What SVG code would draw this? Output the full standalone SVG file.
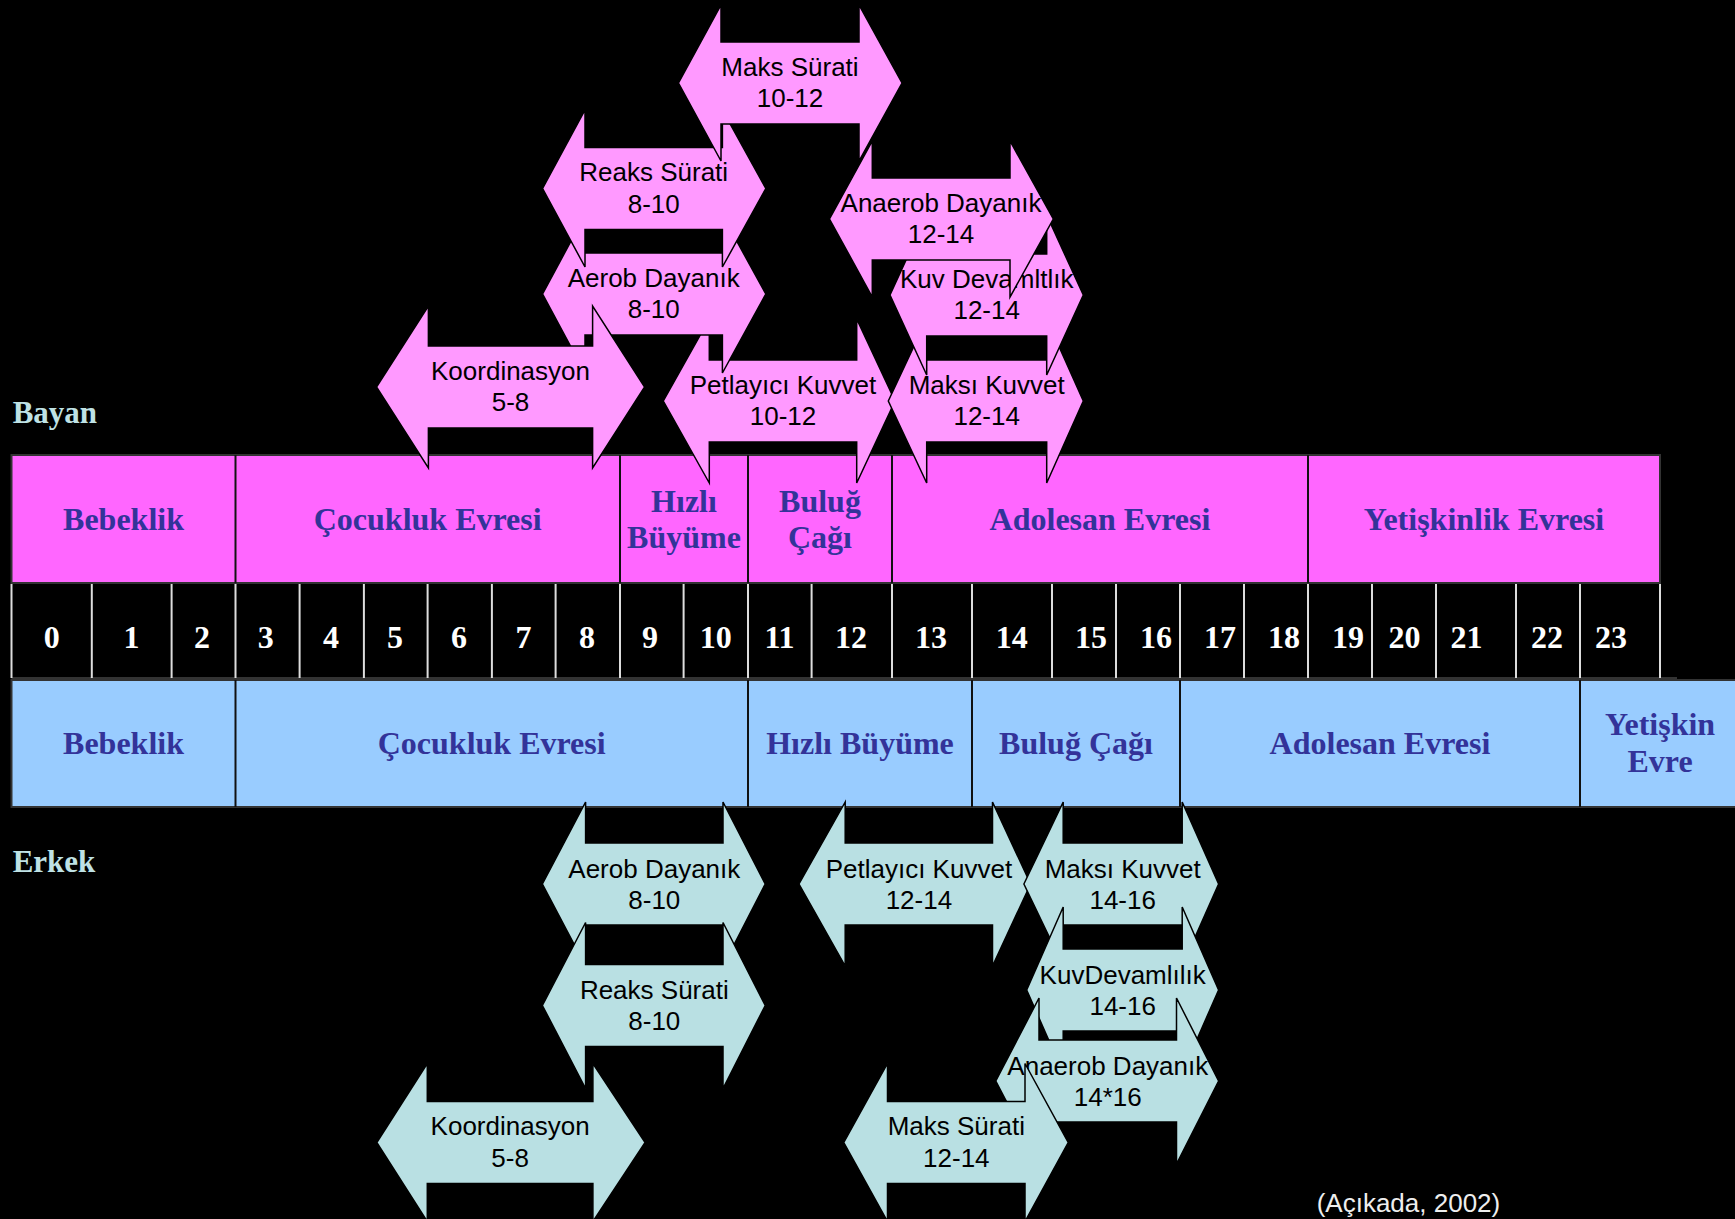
<svg xmlns="http://www.w3.org/2000/svg" width="1735" height="1219" viewBox="0 0 1735 1219">
<style>
.bp{fill:#FF66FF;stroke:#333;stroke-width:2}
.bb{fill:#99CCFF;stroke:#333;stroke-width:2}
.dv{stroke:#111;stroke-width:2}
.nd{stroke:#ddd;stroke-width:2}
.lb{font-family:"Liberation Serif","Times New Roman",serif;font-weight:bold;font-size:32px;fill:#333399;text-anchor:middle}
.nm{font-family:"Liberation Serif","Times New Roman",serif;font-weight:bold;font-size:32px;fill:#fff;text-anchor:middle}
.sx{font-family:"Liberation Serif","Times New Roman",serif;font-weight:bold;font-size:31px;fill:#BFE2E5}
.pa{fill:#FF99FF;stroke:#000;stroke-width:1.5}
.ba{fill:#B9E0E3;stroke:#000;stroke-width:1.5}
.at{font-family:"Liberation Sans",Arial,sans-serif;font-size:26px;fill:#000;text-anchor:middle}
.ct{font-family:"Liberation Sans",Arial,sans-serif;font-size:26px;fill:#eee}
</style>
<rect x="0" y="0" width="1735" height="1219" fill="#000"/>

<g id="bayan-bar">
<rect class="bp" x="11.5" y="455" width="1648.5" height="128"/>
<line class="dv" x1="235.5" y1="455" x2="235.5" y2="583"/>
<line class="dv" x1="620" y1="455" x2="620" y2="583"/>
<line class="dv" x1="748" y1="455" x2="748" y2="583"/>
<line class="dv" x1="892" y1="455" x2="892" y2="583"/>
<line class="dv" x1="1308" y1="455" x2="1308" y2="583"/>
<text class="lb" x="123.5" y="530">Bebeklik</text>
<text class="lb" x="427.7" y="530">Çocukluk Evresi</text>
<text class="lb" x="684" y="511.7">Hızlı</text>
<text class="lb" x="684" y="548">Büyüme</text>
<text class="lb" x="820" y="511.7">Buluğ</text>
<text class="lb" x="820" y="548">Çağı</text>
<text class="lb" x="1100" y="530">Adolesan Evresi</text>
<text class="lb" x="1484" y="530">Yetişkinlik Evresi</text>
</g>

<g id="age-row">
<line x1="11.5" y1="678" x2="1677" y2="678" stroke="#333" stroke-width="2"/>
<g class="nd">
<line x1="11.5" y1="584" x2="11.5" y2="678"/>
<line x1="91.8" y1="584" x2="91.8" y2="678"/>
<line x1="171.6" y1="584" x2="171.6" y2="678"/>
<line x1="235.5" y1="584" x2="235.5" y2="678"/>
<line x1="299.6" y1="584" x2="299.6" y2="678"/>
<line x1="363.9" y1="584" x2="363.9" y2="678"/>
<line x1="427.6" y1="584" x2="427.6" y2="678"/>
<line x1="491.9" y1="584" x2="491.9" y2="678"/>
<line x1="555.6" y1="584" x2="555.6" y2="678"/>
<line x1="620" y1="584" x2="620" y2="678"/>
<line x1="683.6" y1="584" x2="683.6" y2="678"/>
<line x1="748" y1="584" x2="748" y2="678"/>
<line x1="811.6" y1="584" x2="811.6" y2="678"/>
<line x1="892" y1="584" x2="892" y2="678"/>
<line x1="972" y1="584" x2="972" y2="678"/>
<line x1="1052" y1="584" x2="1052" y2="678"/>
<line x1="1116" y1="584" x2="1116" y2="678"/>
<line x1="1180" y1="584" x2="1180" y2="678"/>
<line x1="1244" y1="584" x2="1244" y2="678"/>
<line x1="1308" y1="584" x2="1308" y2="678"/>
<line x1="1372" y1="584" x2="1372" y2="678"/>
<line x1="1436" y1="584" x2="1436" y2="678"/>
<line x1="1516" y1="584" x2="1516" y2="678"/>
<line x1="1580" y1="584" x2="1580" y2="678"/>
<line x1="1660" y1="584" x2="1660" y2="678"/>
</g>
<text class="nm" x="51.7" y="648">0</text>
<text class="nm" x="131.5" y="648">1</text>
<text class="nm" x="202" y="648">2</text>
<text class="nm" x="265.8" y="648">3</text>
<text class="nm" x="331" y="648">4</text>
<text class="nm" x="395" y="648">5</text>
<text class="nm" x="459" y="648">6</text>
<text class="nm" x="523.5" y="648">7</text>
<text class="nm" x="587" y="648">8</text>
<text class="nm" x="650" y="648">9</text>
<text class="nm" x="715.7" y="648">10</text>
<text class="nm" x="779.5" y="648">11</text>
<text class="nm" x="851" y="648">12</text>
<text class="nm" x="931" y="648">13</text>
<text class="nm" x="1011.7" y="648">14</text>
<text class="nm" x="1091" y="648">15</text>
<text class="nm" x="1156" y="648">16</text>
<text class="nm" x="1220" y="648">17</text>
<text class="nm" x="1284" y="648">18</text>
<text class="nm" x="1348" y="648">19</text>
<text class="nm" x="1404.6" y="648">20</text>
<text class="nm" x="1466.6" y="648">21</text>
<text class="nm" x="1547" y="648">22</text>
<text class="nm" x="1611" y="648">23</text>
</g>

<g id="erkek-bar">
<rect class="bb" x="11.5" y="680" width="1740" height="127"/>
<line class="dv" x1="235.5" y1="680" x2="235.5" y2="807"/>
<line class="dv" x1="748" y1="680" x2="748" y2="807"/>
<line class="dv" x1="972" y1="680" x2="972" y2="807"/>
<line class="dv" x1="1180" y1="680" x2="1180" y2="807"/>
<line class="dv" x1="1580" y1="680" x2="1580" y2="807"/>
<text class="lb" x="123.5" y="753.5">Bebeklik</text>
<text class="lb" x="491.7" y="753.5">Çocukluk Evresi</text>
<text class="lb" x="860" y="753.5">Hızlı Büyüme</text>
<text class="lb" x="1076" y="753.5">Buluğ Çağı</text>
<text class="lb" x="1380" y="753.5">Adolesan Evresi</text>
<text class="lb" x="1660" y="735">Yetişkin</text>
<text class="lb" x="1660" y="771.7">Evre</text>
</g>

<text id="bayan-label" class="sx" x="12.7" y="423.3">Bayan</text>
<text id="erkek-label" class="sx" x="12.7" y="871.7">Erkek</text>
<text id="source" class="ct" x="1316.7" y="1212">(Açıkada, 2002)</text>

<g id="bayan-arrows">
<g id="p-petlayici">
<polygon class="pa" points="663.3,401 709.3,319 709.3,360 856.7,360 856.7,319 895,401 856.7,483 856.7,442 709.3,442 709.3,483"/>
<text class="at" x="783" y="393.5">Petlayıcı Kuvvet</text>
<text class="at" x="783" y="425">10-12</text>
</g>
<g id="p-aerob">
<polygon class="pa" points="542.6,294 585,215 585,253 722.4,253 722.4,215 765.8,294 722.4,373 722.4,335 585,335 585,373"/>
<text class="at" x="653.7" y="286.5">Aerob Dayanık</text>
<text class="at" x="653.7" y="318">8-10</text>
</g>
<g id="p-reaks">
<polygon class="pa" points="542.6,188.5 585,110 585,147.5 722.4,147.5 722.4,110 765.8,188.5 722.4,267 722.4,229.5 585,229.5 585,267"/>
<text class="at" x="653.7" y="181">Reaks Sürati</text>
<text class="at" x="653.7" y="212.5">8-10</text>
</g>
<g id="p-koordinasyon">
<polygon class="pa" points="376.5,387 428.4,306 428.4,346 592.6,346 592.6,306 644.6,387 592.6,468 592.6,428 428.4,428 428.4,468"/>
<text class="at" x="510.5" y="379.5">Koordinasyon</text>
<text class="at" x="510.5" y="411">5-8</text>
</g>
<g id="p-maks-surati">
<polygon class="pa" points="678.5,83 721,5 721,42 859,42 859,5 902,83 859,161 859,124 721,124 721,161"/>
<text class="at" x="790" y="75.5">Maks Sürati</text>
<text class="at" x="790" y="107">10-12</text>
</g>
<g id="p-maksi-kuvvet">
<polygon class="pa" points="888.3,401 926.7,319 926.7,360 1046.7,360 1046.7,319 1083.3,401 1046.7,483 1046.7,442 926.7,442 926.7,483"/>
<text class="at" x="986.7" y="393.5">Maksı Kuvvet</text>
<text class="at" x="986.7" y="425">12-14</text>
</g>
<g id="p-kuv-devamlilik">
<polygon class="pa" points="890,295 926.7,215 926.7,254 1046.7,254 1046.7,215 1083.3,295 1046.7,375 1046.7,336 926.7,336 926.7,375"/>
<text class="at" x="986.7" y="287.5">Kuv Devamltlık</text>
<text class="at" x="986.7" y="319">12-14</text>
</g>
<g id="p-anaerob">
<polygon class="pa" points="829.5,219 872.3,141 872.3,178 1010,178 1010,141 1053.3,219 1010,297 1010,260 872.3,260 872.3,297"/>
<text class="at" x="941" y="211.5">Anaerob Dayanık</text>
<text class="at" x="941" y="243">12-14</text>
</g>
</g>

<g id="erkek-arrows">
<g id="b-aerob">
<polygon class="ba" points="542.4,884 585.6,802 585.6,843 723,843 723,802 765.2,884 723,966 723,925 585.6,925 585.6,966"/>
<text class="at" x="654.3" y="877.5">Aerob Dayanık</text>
<text class="at" x="654.3" y="909">8-10</text>
</g>
<g id="b-reaks">
<polygon class="ba" points="542.4,1005.5 585.6,922.5 585.6,964.5 723,964.5 723,922.5 765.2,1005.5 723,1088.5 723,1046.5 585.6,1046.5 585.6,1088.5"/>
<text class="at" x="654.3" y="998.5">Reaks Sürati</text>
<text class="at" x="654.3" y="1030">8-10</text>
</g>
<g id="b-koordinasyon">
<polygon class="ba" points="376.8,1142.5 427.3,1063.5 427.3,1101.5 592.9,1101.5 592.9,1063.5 645.1,1142.5 592.9,1221.5 592.9,1183.5 427.3,1183.5 427.3,1221.5"/>
<text class="at" x="510.1" y="1135">Koordinasyon</text>
<text class="at" x="510.1" y="1166.5">5-8</text>
</g>
<g id="b-petlayici">
<polygon class="ba" points="799,884 845.2,802 845.2,843 992.5,843 992.5,802 1030.6,884 992.5,966 992.5,925 845.2,925 845.2,966"/>
<text class="at" x="918.9" y="877.5">Petlayıcı Kuvvet</text>
<text class="at" x="918.9" y="909">12-14</text>
</g>
<g id="b-maksi-kuvvet">
<polygon class="ba" points="1023.9,884 1063.2,802 1063.2,843 1182.2,843 1182.2,802 1218.6,884 1182.2,966 1182.2,925 1063.2,925 1063.2,966"/>
<text class="at" x="1122.7" y="877.5">Maksı Kuvvet</text>
<text class="at" x="1122.7" y="909">14-16</text>
</g>
<g id="b-kuv-devamlilik">
<polygon class="ba" points="1026.7,990 1063.2,907 1063.2,949 1182.2,949 1182.2,907 1218.6,990 1182.2,1073 1182.2,1031 1063.2,1031 1063.2,1073"/>
<text class="at" x="1122.7" y="983.5">KuvDevamlılık</text>
<text class="at" x="1122.7" y="1015">14-16</text>
</g>
<g id="b-anaerob">
<polygon class="ba" points="995.8,1081 1039,998 1039,1040 1176.5,1040 1176.5,998 1218.6,1081 1176.5,1164 1176.5,1122 1039,1122 1039,1164"/>
<text class="at" x="1107.8" y="1075">Anaerob Dayanık</text>
<text class="at" x="1107.8" y="1105.5">14*16</text>
</g>
<g id="b-maks-surati">
<polygon class="ba" points="843.8,1142.5 887.5,1063.5 887.5,1101.5 1025,1101.5 1025,1063.5 1068.2,1142.5 1025,1221.5 1025,1183.5 887.5,1183.5 887.5,1221.5"/>
<text class="at" x="956.3" y="1135">Maks Sürati</text>
<text class="at" x="956.3" y="1166.5">12-14</text>
</g>
</g>
</svg>
